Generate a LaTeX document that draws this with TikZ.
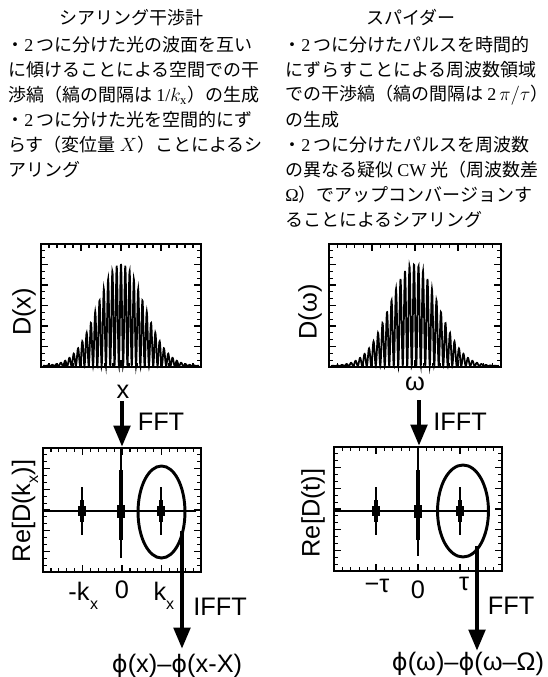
\documentclass[tikz,border=0pt]{standalone}
\usepackage{fontspec}
\setmainfont{Liberation Serif}
\newfontfamily\jp{Noto Sans CJK JP}
\newfontfamily\lsans{Liberation Sans}
\newfontfamily\dv{DejaVu Sans}
\usetikzlibrary{arrows.meta}
\tikzset{
  jptext/.style={font=\jp\fontsize{13.5}{16}\selectfont, inner sep=0pt, anchor=west},
  jptitle/.style={font=\jp\fontsize{13.5}{16}\selectfont, inner sep=0pt},
  lab/.style={font=\lsans\fontsize{19}{20}\selectfont, inner sep=0pt},
  sublab/.style={font=\lsans\fontsize{12}{12}\selectfont, inner sep=0pt},
  boxline/.style={line width=1.5pt},
  tickline/.style={line width=0.9pt},
  bigarrow/.style={line width=3.6pt, -{Triangle[length=16pt,width=12pt]}},
  ell/.style={line width=2.2pt},
  axisline/.style={line width=1.3pt},
  fringe/.style={line width=1.3pt},
  thinpk/.style={line width=1.5pt},
  thickpk/.style={line width=3.6pt},
  blobpk/.style={line width=5.5pt},
}
\newcommand{\ph}{{\dv\fontsize{18}{20}\selectfont ϕ}}
\newcommand{\tickbox}[4]{%
  \draw[boxline] (#1,#2) rectangle (#3,#4);
  \foreach \i in {1,...,19}{%
    \pgfmathsetmacro{\xx}{#1+(#3-#1)*\i/20}%
    \pgfmathsetmacro{\tlen}{mod(\i,5)==0 ? 7 : 4}%
    \draw[tickline] (\xx,#2) -- ++(0,\tlen) (\xx,#4) -- ++(0,-\tlen);
  }%
  \foreach \j in {1,...,17}{%
    \pgfmathsetmacro{\yy}{#2+(#4-#2)*\j/18}%
    \pgfmathsetmacro{\tlen}{mod(\j,3)==0 ? 7 : 4}%
    \draw[tickline] (#1,\yy) -- ++(\tlen,0) (#3,\yy) -- ++(-\tlen,0);
  }%
}
\newcommand{\sidepeak}[2]{%
  \draw[thinpk] (#1,#2-24) -- (#1,#2+24);
  \draw[thickpk] (#1,#2-11) -- (#1,#2+11);
  \draw[blobpk] (#1,#2-5) -- (#1,#2+5);
}
\begin{document}
\begin{tikzpicture}[x=0.75pt,y=-0.75pt]
\useasboundingbox (0,0) rectangle (547,677);
% ---------------- header texts ----------------
\node[jptitle] (tl) at (131,18) {シアリング干渉計};
\node[jptext] (l1) at (6,45) {・{\rmfamily 2}\,つに分けた光の波面を互い};
\node[jptext] (l2) at (8,70) {に傾けることによる空間での干};
\node[jptext] (l3) at (8,95) {渉縞（縞の間隔は {\rmfamily 1/}$k_{\mathrm{x}}$）の生成};
\node[jptext] (l4) at (6,120) {・{\rmfamily 2}\,つに分けた光を空間的にず};
\node[jptext] (l5) at (8,145) {らす（変位量 $X$）ことによるシ};
\node[jptext] (l6) at (8,170) {アリング};
\node[jptitle] (tr) at (411,18) {スパイダー};
\node[jptext] (r1) at (283,45) {・{\rmfamily 2}\,つに分けたパルスを時間的};
\node[jptext] (r2) at (285,70) {にずらすことによる周波数領域};
\node[jptext] (r3) at (285,95) {での干渉縞（縞の間隔は {\rmfamily 2}\,$\pi/\tau$）};
\node[jptext] (r4) at (285,120) {の生成};
\node[jptext] (r5) at (283,145) {・{\rmfamily 2}\,つに分けたパルスを周波数};
\node[jptext] (r6) at (285,170) {の異なる疑似 {\rmfamily CW} 光（周波数差};
\node[jptext] (r7) at (285,195) {{\rmfamily Ω}）でアップコンバージョンす};
\node[jptext] (r8) at (285,220) {ることによるシアリング};
% ---------------- top-left plot ----------------
\tickbox{41}{244}{201}{367}
\draw[fringe] plot[domain=43:199, samples=640]
  (\x, {366 - 102*exp(-((\x-121)/23)^2/2)*(0.5+0.5*cos((\x-121)*83.72))});
\node[lab, rotate=90] (dx) at (24,312) {D(x)};
\node[lab] (xl) at (123,392) {x};
\node[lab] (fft1) at (161,422) {FFT};
% ---------------- top-right plot ----------------
\tickbox{329}{244}{501}{367}
\draw[fringe] plot[domain=331:499, samples=680]
  (\x, {366 - 102*exp(-((\x-414)/24)^2/2)*(0.5+0.5*cos((\x-414)*80))});
\node[lab, rotate=90] (dw) at (310,312) {D(ω)};
\node[lab] (wl) at (415,384) {ω};
\node[lab] (ifft1) at (460,422) {IFFT};
% ---------------- bottom-left plot ----------------
\tickbox{43}{448}{201}{572}
\draw[axisline] (43,511) -- (196,511);
\sidepeak{82}{511}
\sidepeak{161}{511}
\draw[thinpk] (121,448) -- (121,558);
\draw[thickpk] (121,470) -- (121,540);
\draw[blobpk] (121,505) -- (121,518);
\draw[ell] (161.5,512) ellipse [x radius=17.6pt, y radius=34.5pt];
\node[lab, rotate=90] (rek) at (25,511) {Re[D(k\raisebox{-6pt}{\fontsize{12}{12}\selectfont x})]};
\node[lab] (mk) at (79,591) {-k};
\node[sublab] (mks) at (94,605) {x};
\node[lab] (z1) at (122,590) {0};
\node[lab] (pk) at (160,591) {k};
\node[sublab] (pks) at (170,605) {x};
\node[lab] (ifft2) at (220,607) {IFFT};
\node[lab] (phi1) at (177,666) {\ph(x)–\ph(x-X)};
% ---------------- bottom-right plot ----------------
\tickbox{334}{447}{502}{571}
\draw[axisline] (334,511) -- (488,511);
\sidepeak{376}{511}
\sidepeak{460}{511}
\draw[thinpk] (418,447) -- (418,556);
\draw[thickpk] (418,470) -- (418,540);
\draw[blobpk] (418,505) -- (418,518);
\draw[ell] (463,511) ellipse [x radius=19.1pt, y radius=34.5pt];
\node[lab, rotate=90] (ret) at (313,513) {Re[D(t)]};
\node[lab] (mt) at (377,586) {−τ};
\node[lab] (z2) at (418,590) {0};
\node[lab] (pt) at (464,584) {τ};
\node[lab] (fft2) at (511,606) {FFT};
\node[lab] (phi2) at (468,664) {\ph(ω)–\ph(ω–Ω)};
% ---------------- arrows ----------------
\coordinate (a1s) at (122,401);
\coordinate (a1e) at (122,447);
\coordinate (a2s) at (419,400);
\coordinate (a2e) at (419,446);
\coordinate (e1) at (182,531);
\coordinate (f1) at (182,649);
\coordinate (e2) at (477,546);
\coordinate (f2) at (477,651);
\draw[bigarrow] (a1s) -- (a1e);
\draw[bigarrow] (a2s) -- (a2e);
\draw[bigarrow] (e1) -- (f1);
\draw[bigarrow] (e2) -- (f2);
\end{tikzpicture}
\end{document}
